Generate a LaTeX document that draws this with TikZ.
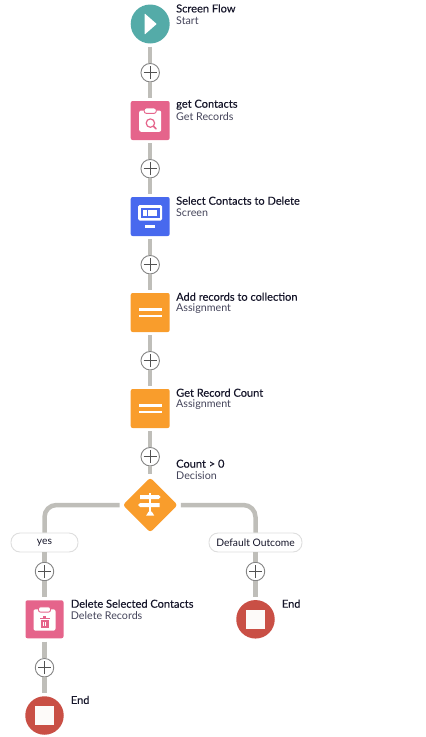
\documentclass[tikz,border=0pt]{standalone}
\usepackage{fontspec}
\setmainfont{Lato}
\usetikzlibrary{shapes.geometric,calc}
\definecolor{tealc}{HTML}{54ABA8}
\definecolor{pinkc}{HTML}{E5648B}
\definecolor{bluec}{HTML}{4869EE}
\definecolor{orangec}{HTML}{F99D2C}
\definecolor{redc}{HTML}{C94F45}
\definecolor{linec}{HTML}{BFBEB9}
\definecolor{titlec}{HTML}{16162A}
\definecolor{subc}{HTML}{44445A}
\tikzset{
  x=1pt,y=-1pt,
  conn/.style={draw=linec,line width=4.5pt},
  startcirc/.style={circle,fill=tealc,minimum size=39pt,inner sep=0pt},
  endcirc/.style={circle,fill=redc,minimum size=38.5pt,inner sep=0pt},
  iconbox/.style={rectangle,rounded corners=2pt,minimum size=39pt,inner sep=0pt},
  decis/.style={diamond,aspect=1,fill=orangec,rounded corners=3pt,minimum size=55pt,inner sep=0pt},
  plusnode/.style={circle,draw=black!48,fill=white,line width=.9pt,minimum size=18.5pt,inner sep=0pt,
    path picture={\draw[black!68,line width=1.4pt]
      ($(path picture bounding box.center)+(-6.5pt,0)$)--($(path picture bounding box.center)+(6.5pt,0)$)
      ($(path picture bounding box.center)+(0,-6.5pt)$)--($(path picture bounding box.center)+(0,6.5pt)$);}},
  pill/.style={rectangle,rounded corners=9pt,draw=black!13,fill=white,line width=.9pt,minimum height=19pt,inner sep=0pt,font=\fontsize{10.3}{12}\selectfont,text=titlec},
  ttl/.style={anchor=west,inner sep=0pt,font=\fontsize{11.05}{12}\selectfont\addfontfeature{FakeBold=0.2},text=titlec},
  sbt/.style={anchor=west,inner sep=0pt,font=\fontsize{10.7}{12}\selectfont,text=subc},
}
\begin{document}
\begin{tikzpicture}
\useasboundingbox (0,0) rectangle (426,737);
% nodes
\node[startcirc] (start) at (150.2,24) {};
\node[plusnode] (p1) at (150.2,72.7) {};
\node[iconbox,fill=pinkc] (get) at (150.2,120.5) {};
\node[plusnode] (p2) at (150.2,168.7) {};
\node[iconbox,fill=bluec] (scr) at (150.2,216.5) {};
\node[plusnode] (p3) at (150.2,264.7) {};
\node[iconbox,fill=orangec] (add) at (150.2,312.5) {};
\node[plusnode] (p4) at (150.2,360.7) {};
\node[iconbox,fill=orangec] (cnt) at (150.2,408.5) {};
\node[plusnode] (p5) at (150.2,456.7) {};
\node[decis] (dec) at (150.2,505) {};
\node[pill,minimum width=67pt] (yes) at (44.5,542.5) {yes};
\node[pill,minimum width=93pt] (def) at (255.5,542.5) {Default Outcome};
\node[plusnode] (p6) at (44.5,571.5) {};
\node[plusnode] (p7) at (255.5,571.5) {};
\node[iconbox,fill=pinkc,minimum size=38pt] (del) at (44.5,619.3) {};
\node[endcirc] (end2) at (255.5,619.3) {};
\node[plusnode] (p8) at (44.5,667.7) {};
\node[endcirc] (end1) at (44.5,715.5) {};
% connectors
\foreach \a/\b in {start/p1,get/p2,scr/p3,add/p4,cnt/p5,del/p8}
  \draw[conn,shorten <=3pt] (\a) -- (\b);
\foreach \a/\b in {p1/get,p2/scr,p3/add,p4/cnt,p5/dec,p8/end1,p6/del,p7/end2}
  \draw[conn,shorten >=3pt] (\a) -- (\b);
\draw[conn] (yes) -- (p6);
\draw[conn] (def) -- (p7);
\draw[conn,rounded corners=12pt,shorten <=3pt] (dec.west) -| (yes.north);
\draw[conn,rounded corners=12pt,shorten <=3pt] (dec.east) -| (def.north);
% play
\fill[white,rounded corners=.5pt] ($(start)+(-5.5,-10.5)$) -- ($(start)+(6.5,0)$) -- ($(start)+(-5.5,10.5)$) -- cycle;
% clipboards
\foreach \n/\o in {get/0,del/0}{
  \fill[white,rounded corners=2pt] ($(\n)+(-11,-10)$) rectangle ($(\n)+(11,11.3)$);
  \fill[white,draw=pinkc,line width=.9pt,rounded corners=2pt] ($(\n)+(-6,-12.5)$) rectangle ($(\n)+(6,-7.2)$);
}
\draw[pinkc,line width=1.2pt] ($(get)+(0.2,2.6)$) circle (4.2pt);
\draw[pinkc,line width=1.5pt,line cap=round] ($(get)+(3.2,5.6)$) -- ($(get)+(6,8.4)$);
% trash
\fill[pinkc] ($(del)+(-5,-1.4)$) rectangle ($(del)+(5,-.2)$);
\fill[pinkc] ($(del)+(-1.6,-3)$) rectangle ($(del)+(1.6,-1.4)$);
\fill[pinkc] ($(del)+(-4,.8)$) rectangle ($(del)+(4,8.6)$);
\fill[white] ($(del)+(-1.9,2.6)$) rectangle ($(del)+(-.6,6.8)$);
\fill[white] ($(del)+(.6,2.6)$) rectangle ($(del)+(1.9,6.8)$);
% screen
\fill[white,rounded corners=1.5pt] ($(scr)+(-12,-11.5)$) rectangle ($(scr)+(12,4)$);
\fill[bluec] ($(scr)+(-9.5,-9)$) rectangle ($(scr)+(9.5,1.5)$);
\fill[white] ($(scr)+(-6.8,-6.7)$) rectangle ($(scr)+(-3.2,-.3)$);
\fill[white] ($(scr)+(-1.8,-6.7)$) rectangle ($(scr)+(7,-.3)$);
\fill[white] ($(scr)+(-5,8.8)$) rectangle ($(scr)+(5,11)$);
% assignment bars
\foreach \n in {add,cnt}{
  \fill[white] ($(\n)+(-11.7,-4.2)$) rectangle ($(\n)+(11.7,-1.6)$);
  \fill[white] ($(\n)+(-11.7,2)$) rectangle ($(\n)+(11.7,4.6)$);
}
% decision icon
\fill[white] ($(dec)+(-10,-10)$) -- ($(dec)+(8.5,-10)$) -- ($(dec)+(10.5,-8)$) -- ($(dec)+(8.5,-6)$) -- ($(dec)+(-10,-6)$) -- cycle;
\fill[white] ($(dec)+(-10,-2)$) -- ($(dec)+(9.5,-2)$) -- ($(dec)+(9.5,2)$) -- ($(dec)+(-10,2)$) -- ($(dec)+(-12,0)$) -- cycle;
\fill[white] ($(dec)+(-1,-12)$) rectangle ($(dec)+(1,-10)$);
\fill[white] ($(dec)+(-1,-6)$) rectangle ($(dec)+(1,-2)$);
\fill[white] ($(dec)+(-1,2)$) rectangle ($(dec)+(1,7)$);
\fill[white] ($(dec)+(-4,10.5)$) -- ($(dec)+(-1.5,6.5)$) -- ($(dec)+(1.5,6.5)$) -- ($(dec)+(4,10.5)$) -- cycle;
% end squares
\foreach \n in {end1,end2}
  \fill[white!97!redc] ($(\n)+(-9.3,-9.3)$) rectangle ($(\n)+(9.3,9.3)$);
% labels
\node[ttl] (t1) at (176,8.4) {Screen Flow};
\node[sbt] (s1) at (176,20.6) {Start};
\node[ttl] (t2) at (176,104.7) {get Contacts};
\node[sbt] (s2) at (176,116.7) {Get Records};
\node[ttl] (t3) at (176,200.7) {Select Contacts to Delete};
\node[sbt] (s3) at (176,212.7) {Screen};
\node[ttl] (t4) at (176,296.7) {Add records to collection};
\node[sbt] (s4) at (176,308.7) {Assignment};
\node[ttl] (t5) at (176,392.7) {Get Record Count};
\node[sbt] (s5) at (176,404.7) {Assignment};
\node[ttl] (t6) at (176,463.7) {Count > 0};
\node[sbt] (s6) at (176,475.7) {Decision};
\node[ttl] (t7) at (70.7,603.7) {Delete Selected Contacts};
\node[sbt] (s7) at (70.7,615.7) {Delete Records};
\node[ttl] (t8) at (281.7,603.7) {End};
\node[ttl] (t9) at (70.7,699.9) {End};
\end{tikzpicture}
\end{document}
